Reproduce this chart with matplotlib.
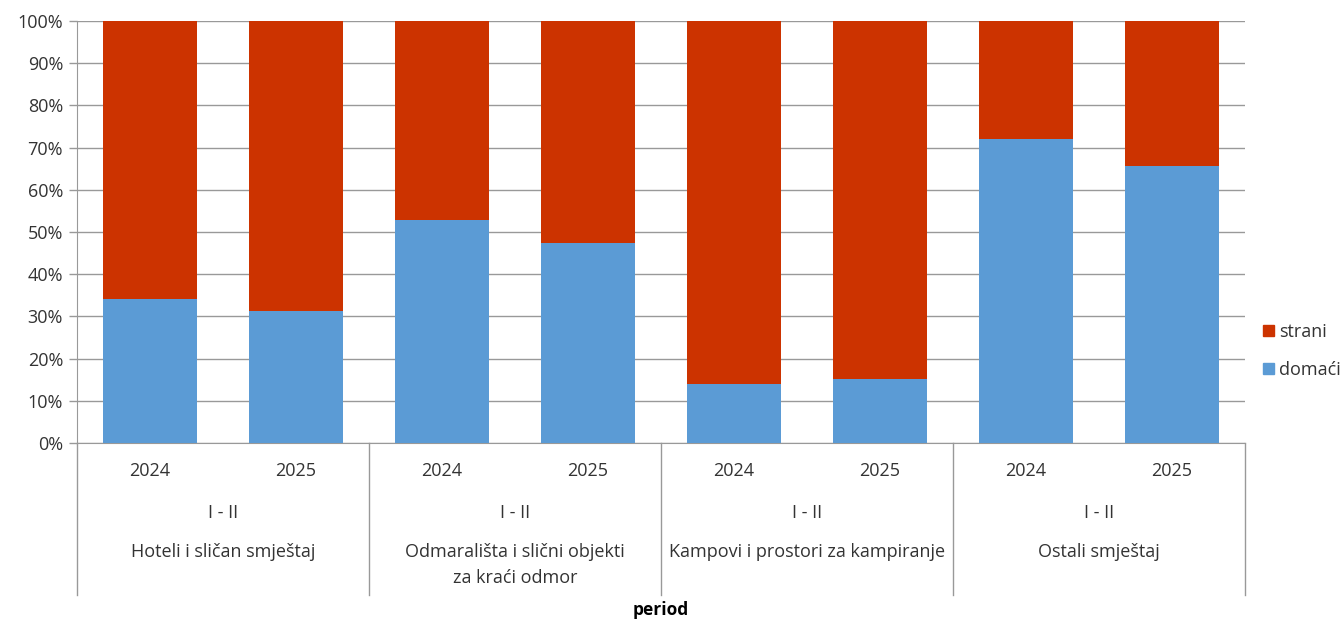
import numpy as np
import matplotlib.pyplot as plt
from matplotlib.patches import Patch

plt.rcParams['font.family'] = ['Open Sans', 'DejaVu Sans']

# data
categories = ["Hoteli i sličan smještaj",
              "Odmarališta i slični objekti\nza kraći odmor",
              "Kampovi i prostori za kampiranje",
              "Ostali smještaj"]
years = ["2024", "2025"]
period = "I - II"
domaci = [34.1, 31.3, 52.8, 47.4, 14.0, 15.2, 72.0, 65.6]
strani = [100 - v for v in domaci]

BLUE = "#5b9bd5"
RED = "#cc3300"
TXT = "#333333"
GRID = "#999999"
FS = 13

fig = plt.figure(figsize=(13.44, 6.22), dpi=100)
ax = fig.add_axes([77 / 1344, 1 - 443 / 622, (1245 - 77) / 1344, 422 / 622])

x = np.arange(len(domaci))
w = 0.645
ax.bar(x, domaci, w, color=BLUE, zorder=3, label="domaći")
ax.bar(x, strani, w, bottom=domaci, color=RED, zorder=3, label="strani")

ax.set_xlim(-0.5, len(domaci) - 0.5)
ax.set_ylim(0, 100)
ax.set_yticks(np.arange(0, 101, 10))
ax.set_yticklabels([f"{v}%" for v in range(0, 101, 10)])
ax.yaxis.grid(True, color=GRID, lw=1)
ax.set_axisbelow(True)
ax.tick_params(axis="y", colors=GRID, labelcolor=TXT, labelsize=FS, length=6, width=1, pad=4)
ax.tick_params(axis="x", length=0)
ax.set_xticks([])
for s in ["top", "right"]:
    ax.spines[s].set_visible(False)
for s in ["left", "bottom"]:
    ax.spines[s].set_color(GRID)

# multi-level category labels
tr = ax.get_xaxis_transform()
h = 422
for i in x:
    ax.text(i, -28 / h, years[i % 2], transform=tr, ha="center", va="center",
            fontsize=FS, color=TXT)
for g, cat in enumerate(categories):
    cx = 2 * g + 0.5
    ax.text(cx, -70 / h, period, transform=tr, ha="center", va="center",
            fontsize=FS, color=TXT)
    ax.text(cx, -100 / h, cat, transform=tr, ha="center", va="top",
            fontsize=FS, color=TXT, linespacing=1.55)
for b in np.arange(-0.5, len(domaci), 2):
    ax.plot([b, b], [0, -152 / h], transform=tr, color=GRID, lw=1, clip_on=False)

ax.text(0.5, -167 / h, "period", transform=ax.transAxes, ha="center", va="center",
        fontsize=12.5, fontweight="bold", color="black")

handles = [Patch(color=RED, label="strani"), Patch(color=BLUE, label="domaći")]
fig.legend(handles=handles, loc="center left", bbox_to_anchor=(1256 / 1344, 1 - 351 / 622),
           frameon=False, fontsize=FS, handlelength=0.6, handleheight=0.6,
           handletextpad=0.3, labelspacing=1.1, labelcolor=TXT, borderaxespad=0)

fig.savefig("out.png", dpi=100)
